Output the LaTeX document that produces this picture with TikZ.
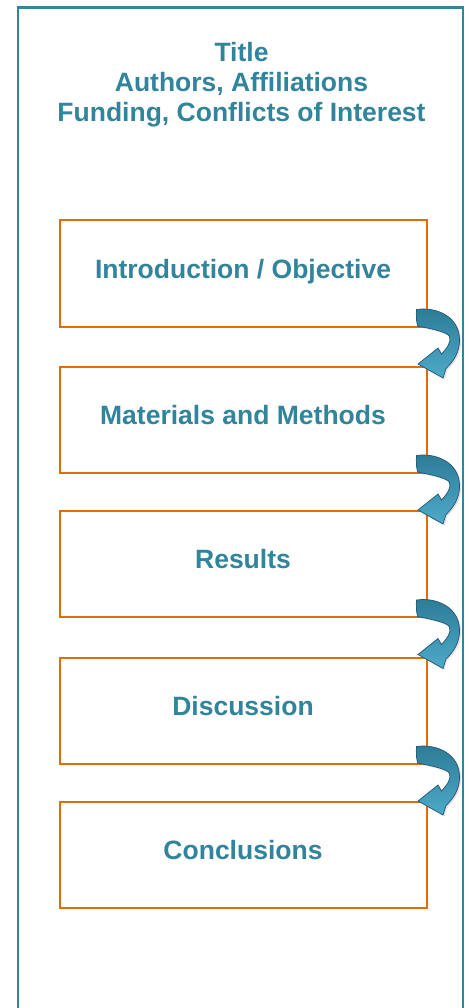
\documentclass[tikz,border=0pt]{standalone}
\usepackage{fontspec}
\setmainfont{Liberation Sans}
\usetikzlibrary{shadows}
\definecolor{teal}{HTML}{31849B}
\definecolor{orng}{HTML}{E36C0A}
\definecolor{arrdark}{HTML}{2C7B94}
\definecolor{arrlight}{HTML}{4DAAC8}
\definecolor{arrline}{HTML}{22577A}
\tikzset{
  secbox/.style={draw=orng, line width=2pt, minimum width=367pt, minimum height=106pt,
    inner sep=0pt, text=teal, font=\bfseries\fontsize{26.5}{30}\selectfont,
    text height=18pt, text depth=9pt},
  titleline/.style={text=teal, font=\bfseries\fontsize{26.5}{30}\selectfont, inner sep=0pt, anchor=base},
  frameline/.style={draw=teal, line width=2.2pt},
  curvarrow/.pic={
    \path[draw=arrline, line width=0.7pt, top color=arrdark, bottom color=arrlight,
      drop shadow={opacity=0.22, shadow xshift=1.5pt, shadow yshift=-1.5pt}]
      (-11,-18) .. controls (10,-21) and (32,-10) .. (32,12)
      .. controls (32.5,24) and (26,34) .. (18.5,41)
      -- (15.5,50.5) -- (-9.5,36.5) -- (10.5,20.5) -- (14,26.5)
      .. controls (20,20) and (24,14) .. (22,9)
      .. controls (20,5) and (8,2) .. (-10,-1.5)
      .. controls (-11.2,-7) and (-11.4,-13) .. cycle;
  }
}
\begin{document}
\begin{tikzpicture}[x=1pt,y=-1pt]
\useasboundingbox (0,0) rectangle (468,1008);
\fill[white] (0,0) rectangle (468,1008);
\draw[frameline] (18,1008) -- (18,7.5) -- (463,7.5) -- (463,1008);
\node[titleline] (t1) at (241.5,62) {Title};
\node[titleline] (t2) at (241.5,92) {Authors, Affiliations};
\node[titleline] (t3) at (241.5,122) {Funding, Conflicts of Interest};
\node[secbox] (b1) at (243,273.5) {Introduction / Objective};
\node[secbox] (b2) at (243,419.5) {Materials and Methods};
\node[secbox] (b3) at (243,564) {Results};
\node[secbox] (b4) at (243,710.5) {Discussion};
\node[secbox] (b5) at (243,854.5) {Conclusions};
\pic at (b1.south east) {curvarrow};
\pic at (b2.south east) {curvarrow};
\pic at (b3.south east) {curvarrow};
\pic at (b4.south east) {curvarrow};
\end{tikzpicture}
\end{document}
